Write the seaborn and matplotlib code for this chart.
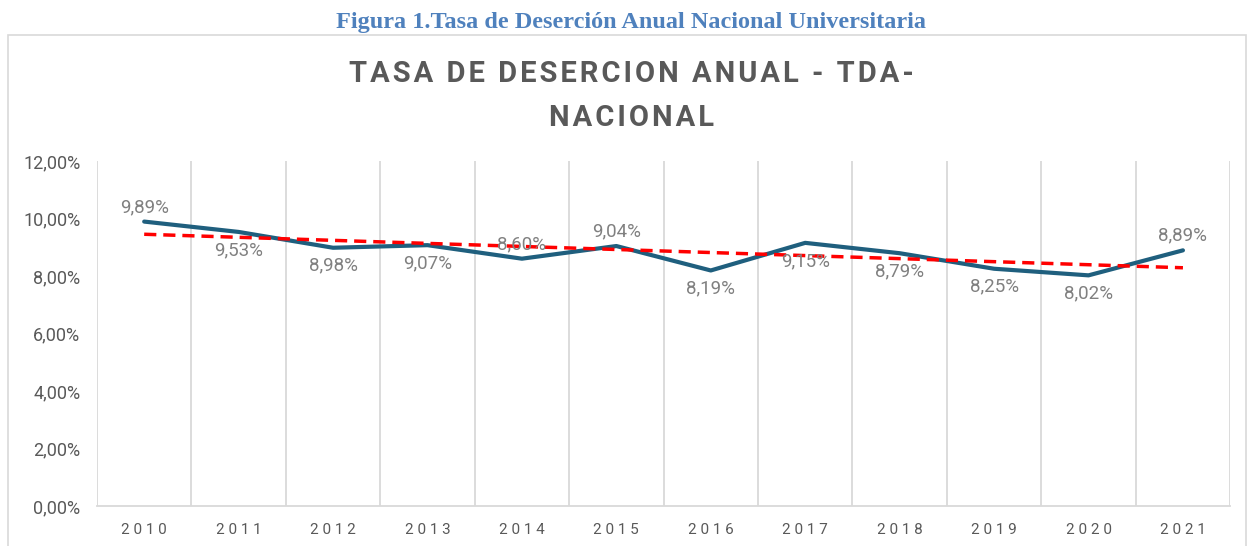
import numpy as np
import pandas as pd
import seaborn as sns
import matplotlib.pyplot as plt
from matplotlib.ticker import FuncFormatter, FixedLocator
from matplotlib.patches import Rectangle

# Data (tasa de desercion anual, %)
years = ['2010', '2011', '2012', '2013', '2014', '2015',
         '2016', '2017', '2018', '2019', '2020', '2021']
tda = [9.89, 9.53, 8.98, 9.07, 8.60, 9.04, 8.19, 9.15, 8.79, 8.25, 8.02, 8.89]
label_above = [True, False, False, False, True, True,
               False, False, False, False, False, True]

df = pd.DataFrame({'pos': np.arange(len(years)), 'tda': tda})

sns.set_theme(style='white')
plt.rcParams['font.family'] = ['Roboto', 'DejaVu Sans']

fig = plt.figure(figsize=(12.48, 5.46), dpi=100)
ax = fig.add_axes([0.0777, 0.0733, 0.908, 0.632])

# outer chart frame
fig.patches.append(Rectangle((0.0064, -0.01), 0.992, 0.946, transform=fig.transFigure,
                             fill=False, edgecolor='#D9D9D9', lw=1.2))

sns.lineplot(data=df, x='pos', y='tda', ax=ax, color='#1F5F7E', lw=3)

# linear trendline (like Excel)
slope, intercept = np.polyfit(df['pos'], df['tda'], 1)
trend = slope * df['pos'] + intercept
ax.plot(df['pos'], trend, color='#FF0000', lw=2.5, ls=(0, (3.5, 2)))

for i, v in enumerate(tda):
    off = 10.5 if label_above[i] else -13
    ax.annotate(f'{v:.2f}%'.replace('.', ','), (i, v), xytext=(0, off),
                textcoords='offset points', ha='center', va='center',
                fontsize=13.5, color='#808080')

ax.set_xlim(-0.5, len(years) - 0.5)
ax.set_ylim(0, 12)
ax.set_yticks(np.arange(0, 12.1, 2))
ax.yaxis.set_major_formatter(FuncFormatter(lambda v, p: f'{v:.2f}%'.replace('.', ',')))
ax.set_xticks(df['pos'])
ax.set_xticklabels([' '.join(y) for y in years], fontsize=11, color='#595959')
ax.tick_params(axis='y', labelsize=13, labelcolor='#595959', length=0, pad=12)
ax.tick_params(axis='x', length=0, pad=12)
ax.xaxis.set_minor_locator(FixedLocator(np.arange(-0.5, len(years), 1)))
ax.grid(which='minor', axis='x', color='#D9D9D9', lw=1.3)
ax.set_xlabel('')
ax.set_ylabel('')
for s in ['top', 'right', 'left']:
    ax.spines[s].set_visible(False)
ax.spines['bottom'].set_color('#D9D9D9')
ax.spines['bottom'].set_linewidth(1.3)

title = 'TASA DE DESERCION ANUAL - TDA-\nNACIONAL'
title = '\n'.join('\u200a'.join(line) for line in title.split('\n'))
fig.text(0.506, 0.824, title, ha='center', va='center', fontsize=21,
         fontweight='bold', color='#595959', linespacing=1.7)

fig.text(0.506, 0.958, 'Figura 1.Tasa de Deserción Anual Nacional Universitaria',
         ha='center', va='center', fontsize=17.5, fontweight='bold',
         color='#4F81BD', family=['Liberation Serif', 'DejaVu Serif'])

fig.savefig('out.png', dpi=100)
